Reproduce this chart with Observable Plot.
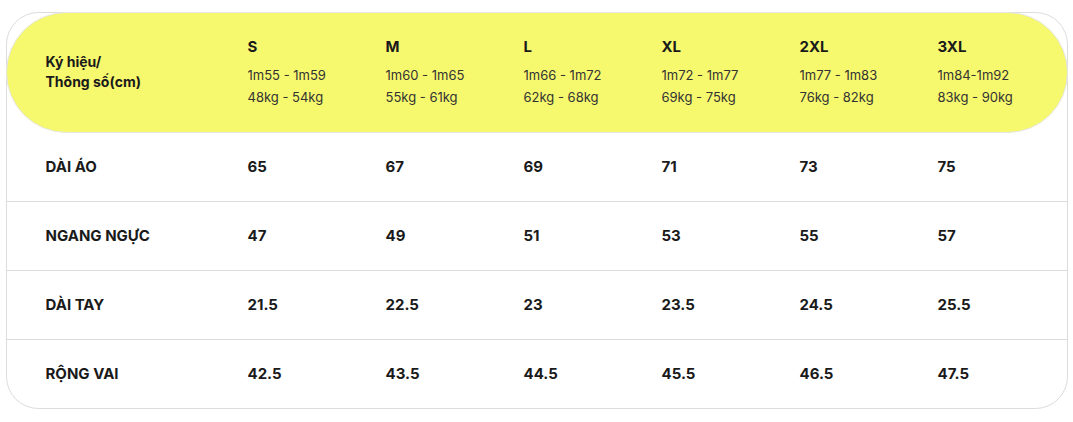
<!DOCTYPE html>
<html>
<head>
<meta charset="utf-8">
<script src="https://cdn.jsdelivr.net/npm/d3@7"></script>
<script src="https://cdn.jsdelivr.net/npm/@observablehq/plot@0.6"></script>
<style>
  body { margin: 0; background: #fff; font-family: Inter, "Noto Sans", sans-serif; }
</style>
</head>
<body>
<div id="chart"></div>
<script>
// bảng size áo
const sizes = ['S', 'M', 'L', 'XL', '2XL', '3XL'];
const chieuCao = ['1m55 - 1m59', '1m60 - 1m65', '1m66 - 1m72', '1m72 - 1m77', '1m77 - 1m83', '1m84-1m92'];
const canNang = ['48kg - 54kg', '55kg - 61kg', '62kg - 68kg', '69kg - 75kg', '76kg - 82kg', '83kg - 90kg'];
const thongSo = ['DÀI ÁO', 'NGANG NGỰC', 'DÀI TAY', 'RỘNG VAI'];
const daiAo = ['65', '67', '69', '71', '73', '75'];
const ngangNguc = ['47', '49', '51', '53', '55', '57'];
const daiTay = ['21.5', '22.5', '23', '23.5', '24.5', '25.5'];
const rongVai = ['42.5', '43.5', '44.5', '45.5', '46.5', '47.5'];

const bang = [daiAo, ngangNguc, daiTay, rongVai];
const cells = thongSo.flatMap((row, i) => sizes.map((s, j) => ({row, size: s, value: bang[i][j]})));
const header = sizes.map((s, i) => ({size: s, sub: `${chieuCao[i]}\n${canNang[i]}`}));

const chart = Plot.plot({
  width: 1073,
  height: 422,
  margin: 0,
  style: {fontFamily: 'Inter, "Noto Sans", sans-serif', color: '#1a1a1a', background: '#fff'},
  x: {type: 'point', domain: sizes, range: [245, 938], padding: 0, axis: null},
  y: {type: 'point', domain: thongSo, range: [167, 374], padding: 0, axis: null},
  marks: [
    Plot.frame({stroke: '#dcdcdc', rx: 32, inset: 6, insetTop: 12, insetBottom: 14}),
    Plot.frame({fill: '#f6f86e', stroke: '#e6e6e6', rx: 60, insetLeft: 6, insetRight: 6, insetTop: 12, insetBottom: 290}),
    Plot.ruleY(thongSo.slice(0, 3), {dy: 34, stroke: '#dcdcdc', insetLeft: 6, insetRight: 6}),
    // header
    Plot.text(['Ký hiệu/\nThông số(cm)'], {frameAnchor: 'top-left', dx: 45, dy: 52, fontSize: 14, fontWeight: 700, lineHeight: 1.45}),
    Plot.text(header, {x: 'size', text: 'size', frameAnchor: 'top', dy: 41, textAnchor: 'start', fontSize: 15, fontWeight: 700}),
    Plot.text(header, {x: 'size', text: 'sub', frameAnchor: 'top', dy: 63, textAnchor: 'start', fontSize: 13, lineHeight: 1.75, fill: '#333'}),
    // body
    Plot.text(thongSo, {y: d => d, text: d => d, frameAnchor: 'left', dx: 45, fontSize: 15, fontWeight: 700}),
    Plot.text(cells, {x: 'size', y: 'row', text: 'value', textAnchor: 'start', fontSize: 15, fontWeight: 700})
  ]
});

d3.select('#chart').append(() => chart);
</script>
</body>
</html>
